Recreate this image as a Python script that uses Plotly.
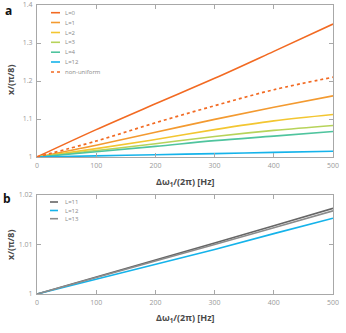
import plotly.graph_objects as go

# ---- data ----
freq = [0, 100, 200, 300, 400, 500]
a_L0 = [1.0, 1.072, 1.140, 1.207, 1.278, 1.350]
a_L1 = [1.0, 1.031, 1.065, 1.099, 1.131, 1.161]
a_L2 = [1.0, 1.022, 1.046, 1.072, 1.095, 1.112]
a_L3 = [1.0, 1.017, 1.035, 1.054, 1.070, 1.083]
a_L4 = [1.0, 1.014, 1.028, 1.043, 1.055, 1.067]
a_L12 = [1.0, 1.003, 1.006, 1.009, 1.0122, 1.0153]
a_nonuni = [1.0, 1.042, 1.090, 1.135, 1.177, 1.210]

b_L11 = [1.0, 1.0034, 1.0068, 1.0103, 1.0138, 1.0173]
b_L12 = [1.0, 1.0030, 1.0060, 1.0090, 1.0122, 1.0153]
b_L13 = [1.0, 1.0033, 1.0066, 1.0100, 1.0134, 1.0168]

a_names = ["L=0", "L=1", "L=2", "L=3", "L=4", "L=12", "non-uniform"]
b_names = ["L=11", "L=12", "L=13"]
a_ticks = [1, 1.1, 1.2, 1.3, 1.4]
b_ticks = [1, 1.01, 1.02]
x_ticks = [0, 100, 200, 300, 400, 500]

# ---- styles ----
a_colors = ["#f26a22", "#f39a30", "#f3c631", "#b7d35a", "#4fc49e", "#15b3ea", "#f26a22"]
a_dash = ["solid"] * 6 + ["dot"]
b_colors = ["#666666", "#15b3ea", "#8c8c8c"]

W, H = 346, 333
PL, PR, PT, PB = 37, 333, 5, 294
L_M = PL
R_M = W - PR
T_M = PT
B_M = H - PB
plot_h = H - T_M - B_M
plot_w = W - L_M - R_M

def py(p):  # window pixel y -> paper y
    return (PB - p) / plot_h

def px(p):
    return (p - PL) / plot_w

fig = go.Figure()
a_series = [a_L0, a_L1, a_L2, a_L3, a_L4, a_L12, a_nonuni]
for name, ys, c, d in zip(a_names, a_series, a_colors, a_dash):
    fig.add_trace(go.Scatter(x=freq, y=ys, mode="lines", name=name,
                             line=dict(color=c, width=1.7 if d == "dot" else 1.6,
                                       dash=d, shape="spline"),
                             xaxis="x", yaxis="y", showlegend=False, cliponaxis=False))
b_series = [b_L11, b_L12, b_L13]
for name, ys, c in zip(b_names, b_series, b_colors):
    fig.add_trace(go.Scatter(x=freq, y=ys, mode="lines", name=name,
                             line=dict(color=c, width=1.6),
                             xaxis="x2", yaxis="y2", showlegend=False))

font = "Open Sans"
tickfont = dict(family=font, size=7, color="#9a9a9a")
axcommon = dict(showline=True, linecolor="#a8a8a8", linewidth=1, mirror="ticks",
                ticks="inside", ticklen=4, tickcolor="#a8a8a8", showgrid=False,
                zeroline=False, tickfont=tickfont, automargin=False)

fig.update_layout(
    width=W, height=H, margin=dict(l=L_M, r=R_M, t=T_M, b=B_M, pad=0, autoexpand=False),
    paper_bgcolor="white", plot_bgcolor="white", hovermode=False,
    xaxis=dict(domain=[0, 1], range=[0, 500], tickvals=x_ticks, anchor="y",
               ticklabelstandoff=2, **axcommon),
    yaxis=dict(domain=[py(157), 1], range=[1, 1.4], tickvals=a_ticks,
               ticktext=[f"{t:g}" for t in a_ticks], anchor="x",
               ticklabelstandoff=2, **axcommon),
    xaxis2=dict(domain=[0, 1], range=[0, 500], tickvals=x_ticks, anchor="y2",
                ticklabelstandoff=2, **axcommon),
    yaxis2=dict(domain=[0, py(195)], range=[1, 1.02], tickvals=b_ticks,
                ticktext=[f"{t:g}" for t in b_ticks], anchor="x2",
                ticklabelstandoff=2, **axcommon),
)

title_font = dict(family=font, size=9, color="#4a4a4a")
ann = []
xtitle = "<b>Δω<sub>1</sub>/(2π) [Hz]</b>"
ann.append(dict(text=xtitle, x=px(185), y=py(182), xref="paper", yref="paper",
                showarrow=False, font=title_font, xanchor="center", yanchor="middle"))
ann.append(dict(text=xtitle, x=px(185), y=py(318), xref="paper", yref="paper",
                showarrow=False, font=title_font, xanchor="center", yanchor="middle"))
ann.append(dict(text="<b>x/(π/8)</b>", x=px(10), y=py(80), xref="paper", yref="paper",
                showarrow=False, font=title_font, textangle=-90, xanchor="center", yanchor="middle"))
ann.append(dict(text="<b>x/(π/8)</b>", x=px(10), y=py(245), xref="paper", yref="paper",
                showarrow=False, font=title_font, textangle=-90, xanchor="center", yanchor="middle"))
ann.append(dict(text="<b>a</b>", x=px(8), y=py(10), xref="paper", yref="paper",
                showarrow=False, font=dict(family=font, size=12, color="#111"),
                xanchor="center", yanchor="middle"))
ann.append(dict(text="<b>b</b>", x=px(7), y=py(198), xref="paper", yref="paper",
                showarrow=False, font=dict(family=font, size=12, color="#111"),
                xanchor="center", yanchor="middle"))

shapes = []
legfont = dict(family=font, size=6, color="#8a8a8a")
a_leg_y = [12.7, 22.5, 32.5, 42.3, 52.2, 62, 72]
for name, c, d, yy in zip(a_names, a_colors, a_dash, a_leg_y):
    shapes.append(dict(type="line", xref="paper", yref="paper", x0=px(51), x1=px(60),
                       y0=py(yy), y1=py(yy), line=dict(color=c, width=1.6, dash=d)))
    ann.append(dict(text=name, x=px(63), y=py(yy), xref="paper", yref="paper",
                    showarrow=False, font=legfont, xanchor="left", yanchor="middle"))
b_leg_y = [202, 210.5, 218.7]
for name, c, yy in zip(b_names, b_colors, b_leg_y):
    shapes.append(dict(type="line", xref="paper", yref="paper", x0=px(50), x1=px(58),
                       y0=py(yy), y1=py(yy), line=dict(color=c, width=1.6)))
    ann.append(dict(text=name, x=px(63), y=py(yy), xref="paper", yref="paper",
                    showarrow=False, font=legfont, xanchor="left", yanchor="middle"))

fig.update_layout(annotations=ann, shapes=shapes)
fig.write_html("out.html", config={"displayModeBar": False, "staticPlot": True},
               post_script="document.body.style.margin='0';document.body.style.overflow='hidden';")
